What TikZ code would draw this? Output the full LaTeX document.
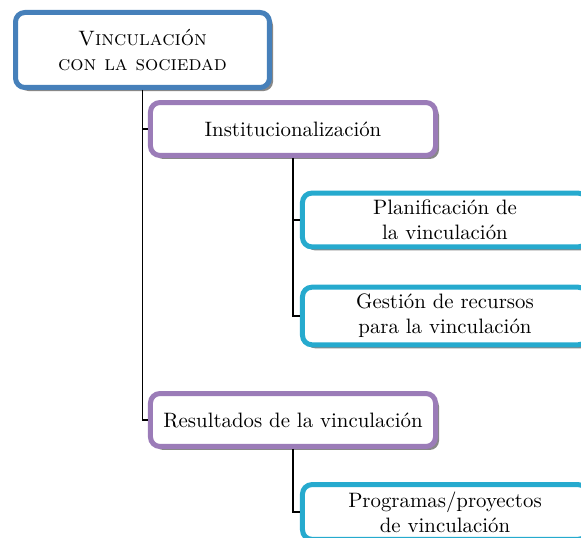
\documentclass[tikz,border=0pt]{standalone}
\usetikzlibrary{shadows}
\definecolor{rootblue}{RGB}{70,128,186}
\definecolor{lvlpurple}{RGB}{155,124,184}
\definecolor{lvlcyan}{RGB}{38,170,206}
\tikzset{
  basebox/.style={draw, rounded corners=4.5pt, line width=2.4pt, fill=white, align=center,
    drop shadow={shadow xshift=1.7pt, shadow yshift=-1.7pt, fill=black!55, opacity=0.85}},
  rootbox/.style={basebox, draw=rootblue, minimum width=121.9pt, minimum height=36pt},
  midbox/.style={basebox, draw=lvlpurple, minimum width=136.8pt, minimum height=25.4pt},
  leafbox/.style={basebox, draw=lvlcyan, minimum width=136.8pt, minimum height=25.4pt},
  link/.style={draw=black, line width=0.72pt}
}
\begin{document}
\begin{tikzpicture}[x=0.48pt, y=-0.48pt]
\useasboundingbox (0,0) rectangle (581,538);
\clip (0,0) rectangle (581,538);
\node[rootbox] (root) at (142.5,50) {\textsc{Vinculación}\\\textsc{con la sociedad}};
\node[midbox] (inst) at (293,129) {Institucionalización};
\node[leafbox] (plan) at (445,220) {Planificación de\\la vinculación};
\node[leafbox] (gest) at (445,316) {Gestión de recursos\\para la vinculación};
\node[midbox] (res) at (293,420) {Resultados de la vinculación};
\node[leafbox] (prog) at (445,512) {Programas/proyectos\\de vinculación};
\draw[link] (root.south) |- (inst.west);
\draw[link] (root.south) |- (res.west);
\draw[link] (inst.south) |- (plan.west);
\draw[link] (inst.south) |- (gest.west);
\draw[link] (res.south) |- (prog.west);
\end{tikzpicture}
\end{document}
